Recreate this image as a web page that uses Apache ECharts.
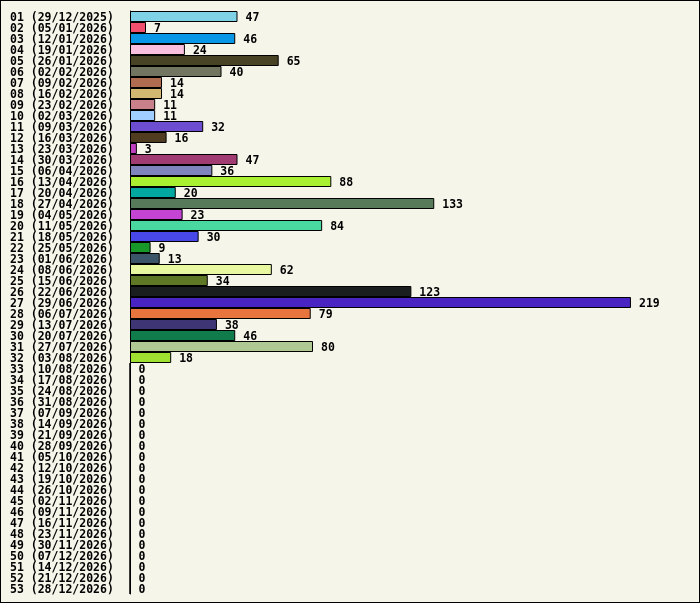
<!DOCTYPE html>
<html>
<head>
<meta charset="utf-8">
<script src="https://cdn.jsdelivr.net/npm/echarts@6/dist/echarts.min.js"></script>
<style>
	html, body { margin: 0; padding: 0; background: #f5f5ea; }
	#chart { width: 698px; height: 601px; border: 1px solid #000; background: #f5f5ea; }
</style>
</head>
<body>
<div id="chart"></div>
<script>
var weeks = ['01 (29/12/2025)', '02 (05/01/2026)', '03 (12/01/2026)', '04 (19/01/2026)', '05 (26/01/2026)',
	'06 (02/02/2026)', '07 (09/02/2026)', '08 (16/02/2026)', '09 (23/02/2026)', '10 (02/03/2026)',
	'11 (09/03/2026)', '12 (16/03/2026)', '13 (23/03/2026)', '14 (30/03/2026)', '15 (06/04/2026)',
	'16 (13/04/2026)', '17 (20/04/2026)', '18 (27/04/2026)', '19 (04/05/2026)', '20 (11/05/2026)',
	'21 (18/05/2026)', '22 (25/05/2026)', '23 (01/06/2026)', '24 (08/06/2026)', '25 (15/06/2026)',
	'26 (22/06/2026)', '27 (29/06/2026)', '28 (06/07/2026)', '29 (13/07/2026)', '30 (20/07/2026)',
	'31 (27/07/2026)', '32 (03/08/2026)', '33 (10/08/2026)', '34 (17/08/2026)', '35 (24/08/2026)',
	'36 (31/08/2026)', '37 (07/09/2026)', '38 (14/09/2026)', '39 (21/09/2026)', '40 (28/09/2026)',
	'41 (05/10/2026)', '42 (12/10/2026)', '43 (19/10/2026)', '44 (26/10/2026)', '45 (02/11/2026)',
	'46 (09/11/2026)', '47 (16/11/2026)', '48 (23/11/2026)', '49 (30/11/2026)', '50 (07/12/2026)',
	'51 (14/12/2026)', '52 (21/12/2026)', '53 (28/12/2026)'];

var counts = [47, 7, 46, 24, 65, 40, 14, 14, 11, 11,
	32, 16, 3, 47, 36, 88, 20, 133, 23, 84,
	30, 9, 13, 62, 34, 123, 219, 79, 38, 46,
	80, 18, 0, 0, 0, 0, 0, 0, 0, 0,
	0, 0, 0, 0, 0, 0, 0, 0, 0, 0,
	0, 0, 0];

var barColors = ['#7fd2e6', '#f0506e', '#0896e6', '#f8c0de', '#474324', '#727660', '#b06c50', '#d2b870',
	'#c8808a', '#a0ceff', '#6e4ed0', '#503c20', '#c040c0', '#a03c72', '#8084bc', '#a8f030',
	'#00a8a0', '#567a5a', '#c444d4', '#48d8a0', '#4848e8', '#189828', '#3c5468', '#e8f8a0',
	'#5e7826', '#1a1e1e', '#4a24c2', '#e8743e', '#3e3674', '#107c4c', '#b0c894', '#a0e030'];

var monoFont = '"DejaVu Sans Mono", monospace';

var chart = echarts.init(document.getElementById('chart'));

var barData = counts.map(function(v, i) {
	return {
		value: v,
		itemStyle: { color: barColors[i] || '#888' }
	};
});

chart.setOption({
	backgroundColor: '#f5f5ea',
	animation: false,
	grid: {
		left: 129,
		right: 20,
		top: 10,
		bottom: 8
	},
	xAxis: {
		type: 'value',
		min: 0,
		max: 240,
		show: false
	},
	yAxis: {
		type: 'category',
		data: weeks,
		inverse: true,
		axisTick: { show: false },
		axisLine: {
			show: true,
			lineStyle: { color: '#000', width: 1 }
		},
		axisLabel: {
			align: 'left',
			margin: 120,
			interval: 0,
			// empty first line pushes the text down a couple of pixels
			formatter: function(v) {
				return '{s|}\n{a|' + v + '}';
			},
			rich: {
				s: { height: 4, lineHeight: 4, fontSize: 4 },
				a: {
					color: '#000',
					fontFamily: monoFont,
					fontWeight: 'bold',
					fontSize: 11.5,
					lineHeight: 13
				}
			}
		}
	},
	series: [{
		type: 'bar',
		data: barData,
		barCategoryGap: '0%',
		itemStyle: {
			borderColor: '#000',
			borderWidth: 1
		},
		label: {
			show: true,
			position: 'right',
			distance: 8,
			offset: [0, 2],
			color: '#000',
			fontFamily: monoFont,
			fontWeight: 'bold',
			fontSize: 11.5
		}
	}]
});
</script>
</body>
</html>
